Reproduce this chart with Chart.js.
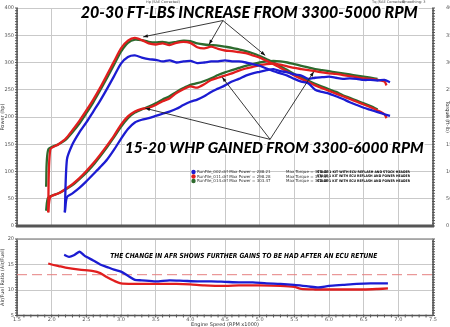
<!DOCTYPE html>
<html>
<head>
<meta charset="utf-8">
<script src="https://cdn.jsdelivr.net/npm/chart.js@4.4.1/dist/chart.umd.min.js"></script>
<style>
  body { margin: 0; background: #fff; width: 450px; height: 327px; overflow: hidden; position: relative; }
  #dyno { position: absolute; left: 0; top: 0; }
  #afr { position: absolute; left: 0; top: 233px; }
</style>
</head>
<body>
<canvas id="dyno" width="450" height="234"></canvas>
<canvas id="afr" width="450" height="94"></canvas>
<script>
// -------------------- Dados --------------------
const rpmTicks = [1.5, 2.0, 2.5, 3.0, 3.5, 4.0, 4.5, 5.0, 5.5, 6.0, 6.5, 7.0, 7.5];

// RunFile_002 (azul)
const rpmBlue = [2.19, 2.22, 2.3, 2.4, 2.5, 2.6, 2.7, 2.8, 2.9, 3.0, 3.1, 3.2, 3.3, 3.4, 3.5, 3.6, 3.7, 3.8, 3.9, 4.0,
  4.1, 4.2, 4.3, 4.4, 4.5, 4.6, 4.7, 4.8, 4.9, 5.0, 5.1, 5.2, 5.3, 5.4, 5.5, 5.6, 5.7, 5.8, 5.9, 6.0,
  6.1, 6.2, 6.3, 6.4, 6.5, 6.6, 6.7, 6.8, 6.88];
const torqueBlue = [25, 122, 150, 172, 190, 210, 230, 252, 275, 298, 310, 313, 309, 306, 305, 302, 304, 300, 302, 303,
  299, 300, 302, 302, 304, 302, 302, 300, 297, 294, 289, 284, 280, 276, 270, 265, 262, 250, 246, 243,
  238, 233, 227, 222, 217, 213, 209, 205, 202];
const powerBlue = [25, 53, 60, 70, 82, 95, 108, 122, 140, 160, 178, 190, 195, 198, 202, 206, 210, 215, 222, 228,
  232, 238, 246, 252, 258, 265, 270, 276, 280, 283, 286, 288, 284, 282, 278, 276, 270, 272, 273, 274,
  272, 270, 271, 270, 268, 268, 267, 268, 264];

// RunFile_011 (vermelho)
const rpmRed = [1.95, 1.98, 2.1, 2.2, 2.3, 2.4, 2.5, 2.6, 2.7, 2.8, 2.9, 3.0, 3.1, 3.2, 3.3, 3.4, 3.5, 3.6, 3.7, 3.8,
  3.9, 4.0, 4.1, 4.2, 4.3, 4.4, 4.5, 4.6, 4.7, 4.8, 4.9, 5.0, 5.1, 5.2, 5.3, 5.4, 5.5, 5.6, 5.7, 5.8,
  5.9, 6.0, 6.1, 6.2, 6.3, 6.4, 6.5, 6.6, 6.7, 6.8, 6.83];
const torqueRed = [25, 140, 150, 160, 176, 193, 212, 232, 254, 278, 302, 326, 340, 345, 341, 335, 333, 335, 332, 336,
  338, 336, 328, 326, 329, 325, 322, 321, 319, 317, 313, 309, 303, 297, 290, 283, 276, 270, 264, 258,
  253, 248, 243, 238, 233, 228, 223, 218, 212, 205, 198];
const powerRed = [25, 53, 60, 68, 77, 88, 101, 115, 131, 148, 166, 186, 201, 210, 215, 217, 222, 229, 234, 244,
  251, 256, 254, 260, 268, 272, 276, 280, 285, 289, 292, 295, 297, 298, 296, 293, 290, 288, 286, 284,
  282, 280, 279, 277, 275, 273, 271, 270, 268, 265, 258];

// RunFile_014 (verde)
const rpmGreen = [1.92, 1.95, 2.1, 2.2, 2.3, 2.4, 2.5, 2.6, 2.7, 2.8, 2.9, 3.0, 3.1, 3.2, 3.3, 3.4, 3.5, 3.6, 3.7, 3.8,
  3.9, 4.0, 4.1, 4.2, 4.3, 4.4, 4.5, 4.6, 4.7, 4.8, 4.9, 5.0, 5.1, 5.2, 5.3, 5.4, 5.5, 5.6, 5.7, 5.8,
  5.9, 6.0, 6.1, 6.2, 6.3, 6.4, 6.5, 6.6, 6.7];
const torqueGreen = [72, 140, 150, 158, 172, 188, 207, 227, 249, 272, 296, 320, 336, 342, 341, 338, 337, 338, 336, 338,
  340, 339, 335, 333, 332, 331, 329, 327, 324, 321, 317, 312, 306, 300, 293, 286, 279, 273, 267, 261,
  256, 251, 246, 240, 235, 230, 225, 220, 214];
const powerGreen = [28, 52, 60, 67, 75, 86, 98, 112, 128, 145, 163, 182, 198, 208, 214, 219, 225, 232, 238, 246,
  253, 259, 262, 266, 271, 277, 282, 286, 290, 294, 297, 300, 302, 303, 302, 300, 297, 294, 291, 288,
  286, 284, 282, 280, 278, 276, 274, 272, 270];

// Relação ar/combustível
const rpmAfrBlue = [2.18, 2.25, 2.32, 2.4, 2.45, 2.5, 2.6, 2.7, 2.8, 2.9, 3.0, 3.1, 3.2, 3.3, 3.5, 3.7, 3.9, 4.1,
  4.3, 4.5, 4.7, 4.9, 5.1, 5.3, 5.5, 5.7, 5.85, 6.0, 6.2, 6.4, 6.6, 6.85];
const afrBlue = [16.9, 16.5, 16.8, 17.5, 17.0, 16.5, 15.8, 15.0, 14.5, 14.0, 13.6, 12.8, 12.0, 11.9, 11.7, 11.9, 11.8, 11.7,
  11.7, 11.6, 11.5, 11.5, 11.3, 11.2, 11.0, 10.7, 10.5, 10.8, 11.0, 11.2, 11.3, 11.3];
const rpmAfrRed = [1.95, 2.0, 2.1, 2.2, 2.4, 2.6, 2.7, 2.8, 2.9, 3.0, 3.2, 3.5, 3.8, 4.0, 4.2, 4.5, 4.7, 5.0,
  5.3, 5.5, 5.6, 5.8, 6.0, 6.3, 6.5, 6.7, 6.85];
const afrRed = [15.2, 15.0, 14.7, 14.4, 14.0, 13.7, 13.3, 12.5, 11.8, 11.3, 11.2, 11.2, 11.2, 11.1, 10.9, 10.8, 10.9, 10.9,
  10.8, 10.6, 10.2, 10.1, 10.1, 10.1, 10.1, 10.2, 10.3];
const rpmAfrTarget = [1.5, 7.5];
const afrTarget = [13, 13];

// Legenda
const runNames = ["RunFile_002.drf", "RunFile_011.drf", "RunFile_014.drf"];
const runMaxPower = ["288.21", "298.28", "303.47"];
const runMaxTorque = ["313.43", "345.33", "342.69"];
const runNotes = ["STAGE 1 KIT WITH ECU REFLASH AND STOCK HEADER",
  "STAGE 1 KIT WITH ECU REFLASH AND POWER HEADER",
  "STAGE 1 KIT WITH ECU REFLASH AND POWER HEADER"];
const runColors = ["#1c1cd2", "#e11e1e", "#2d6a2d"];

// -------------------- Funções --------------------
function pontos(xs, ys) {
  return xs.map((x, i) => ({ x, y: ys[i] }));
}

function linha(label, xs, ys, cor, eixo) {
  return {
    label, data: pontos(xs, ys), yAxisID: eixo,
    borderColor: cor, borderWidth: 2.3, pointRadius: 0, tension: 0.25, fill: false
  };
}

const fonteTick = { family: "DejaVu Sans", size: 5 };
const grade = { color: "#c9c9c9", lineWidth: 1, drawTicks: false };

// moldura escura com marcas menores
function moldura(ctx, area, lados, passoX, passoY) {
  ctx.save();
  ctx.strokeStyle = "#555";
  ctx.lineWidth = 1.5;
  const { left, right, top, bottom } = area;
  if (lados.includes("l")) { ctx.beginPath(); ctx.moveTo(left, top); ctx.lineTo(left, bottom); ctx.stroke(); }
  if (lados.includes("r")) { ctx.beginPath(); ctx.moveTo(right, top); ctx.lineTo(right, bottom); ctx.stroke(); }
  ctx.lineWidth = 1;
  for (let y = bottom; y >= top; y -= passoY) {
    if (lados.includes("l")) { ctx.beginPath(); ctx.moveTo(left - 2, y); ctx.lineTo(left + 1, y); ctx.stroke(); }
    if (lados.includes("r")) { ctx.beginPath(); ctx.moveTo(right - 1, y); ctx.lineTo(right + 2, y); ctx.stroke(); }
  }
  if (lados.includes("b")) {
    for (let x = left; x <= right; x += passoX) {
      ctx.beginPath(); ctx.moveTo(x, bottom - 1); ctx.lineTo(x, bottom + 2); ctx.stroke();
    }
  }
  ctx.restore();
}

function textoGrande(ctx, txt, cx, base, tam, larg) {
  ctx.save();
  ctx.font = `italic 900 ${tam}px Lato`;
  const w = ctx.measureText(txt).width;
  ctx.translate(cx, base);
  ctx.scale(larg / w, 1);
  ctx.textAlign = "center";
  ctx.textBaseline = "alphabetic";
  ctx.lineJoin = "round";
  ctx.strokeStyle = "#fff";
  ctx.lineWidth = 3;
  ctx.strokeText(txt, 0, 0);
  ctx.fillStyle = "#000";
  ctx.fillText(txt, 0, 0);
  ctx.restore();
}

function seta(ctx, x0, y0, x1, y1) {
  ctx.save();
  ctx.strokeStyle = "#222";
  ctx.fillStyle = "#111";
  ctx.lineWidth = 0.9;
  ctx.beginPath(); ctx.moveTo(x0, y0); ctx.lineTo(x1, y1); ctx.stroke();
  const a = Math.atan2(y1 - y0, x1 - x0);
  ctx.beginPath();
  ctx.moveTo(x1, y1);
  ctx.lineTo(x1 - 5 * Math.cos(a - 0.35), y1 - 5 * Math.sin(a - 0.35));
  ctx.lineTo(x1 - 5 * Math.cos(a + 0.35), y1 - 5 * Math.sin(a + 0.35));
  ctx.closePath(); ctx.fill();
  ctx.restore();
}

// anotações do gráfico de potência/torque (em coordenadas de dados)
const setasTorque = { origem: [4.47, 377], alvos: [[3.32, 347], [4.27, 333], [5.08, 313]] };
const setasPotencia = { origem: [5.15, 159], alvos: [[3.35, 216], [4.46, 273], [5.78, 283]] };

const pluginDyno = {
  id: "dyno",
  beforeDatasetsDraw(chart) {
    const { ctx, chartArea } = chart;
    moldura(ctx, chartArea, "lr", 0, chartArea.height / 80);
    ctx.save();
    ctx.strokeStyle = "#555";
    ctx.lineWidth = 3;
    ctx.beginPath();
    ctx.moveTo(chartArea.left - 1, chartArea.bottom);
    ctx.lineTo(chartArea.right + 1, chartArea.bottom);
    ctx.stroke();
    ctx.restore();
  },
  afterDraw(chart) {
    const { ctx, scales } = chart;
    const px = r => scales.x.getPixelForValue(r);
    const py = v => scales.y.getPixelForValue(v);

    [setasTorque, setasPotencia].forEach(s => {
      s.alvos.forEach(t => seta(ctx, px(s.origem[0]), py(s.origem[1]), px(t[0]), py(t[1])));
    });

    textoGrande(ctx, "20-30 FT-LBS INCREASE FROM 3300-5000 RPM", px(4.85), py(381), 16, 337);
    textoGrande(ctx, "15-20 WHP GAINED FROM 3300-6000 RPM", px(5.21), py(134), 15, 299);

    // legenda
    ctx.save();
    ctx.font = '4px "DejaVu Sans"';
    ctx.textBaseline = "middle";
    runNames.forEach((n, i) => {
      const y = 172 + i * 4.5;
      ctx.fillStyle = runColors[i];
      ctx.beginPath(); ctx.arc(193.5, y, 2.2, 0, Math.PI * 2); ctx.fill();
      ctx.fillStyle = "#333";
      ctx.fillText(`${n} Max Power = ${runMaxPower[i]}`, 197, y);
      ctx.fillText(`Max Torque = ${runMaxTorque[i]}`, 286, y);
      ctx.save();
      ctx.font = 'bold 3.5px "DejaVu Sans"';
      ctx.fillStyle = "#000";
      const w = ctx.measureText(runNotes[i]).width;
      ctx.translate(317, y);
      ctx.scale(93 / w, 1);
      ctx.fillText(runNotes[i], 0, 0);
      ctx.restore();
    });

    // textos pequenos do topo
    ctx.fillStyle = "#444";
    ctx.font = '3.5px "DejaVu Sans"';
    ctx.fillText("Tq (SAE Corrected)", 372, 2.5);
    ctx.fillText("Smoothing: 3", 402, 2.5);
    ctx.fillText("Hp (SAE Corrected)", 146, 2);
    ctx.restore();
  }
};

const pluginAfr = {
  id: "afr",
  beforeDatasetsDraw(chart) {
    const { ctx, chartArea } = chart;
    moldura(ctx, chartArea, "lrb", chartArea.width / 60, chartArea.height / 30);
    ctx.save();
    ctx.strokeStyle = "#555";
    ctx.lineWidth = 1.5;
    ctx.beginPath();
    ctx.moveTo(chartArea.left, chartArea.bottom);
    ctx.lineTo(chartArea.right, chartArea.bottom);
    ctx.stroke();
    ctx.strokeStyle = "#9a9a9a";
    ctx.beginPath();
    ctx.moveTo(chartArea.left, chartArea.top);
    ctx.lineTo(chartArea.right, chartArea.top);
    ctx.stroke();
    ctx.restore();
  },
  afterDraw(chart) {
    const { ctx, scales } = chart;
    ctx.save();
    ctx.font = 'italic bold 7px "DejaVu Sans"';
    const txt = "THE CHANGE IN AFR SHOWS FURTHER GAINS TO BE HAD AFTER AN ECU RETUNE";
    const w = ctx.measureText(txt).width;
    ctx.translate(scales.x.getPixelForValue(4.77), scales.y.getPixelForValue(16.3));
    ctx.scale(267 / w, 1);
    ctx.textAlign = "center";
    ctx.textBaseline = "alphabetic";
    ctx.fillStyle = "#000";
    ctx.fillText(txt, 0, 0);
    ctx.restore();
  }
};

// -------------------- Gráficos --------------------
const eixoX = {
  type: "linear", min: 1.5, max: 7.5,
  afterBuildTicks: s => { s.ticks = rpmTicks.map(v => ({ value: v })); },
  grid: grade, border: { display: false }
};

new Chart(document.getElementById("dyno"), {
  type: "line",
  data: {
    datasets: [
      linha("Torque 002", rpmBlue, torqueBlue, runColors[0], "y2"),
      linha("Power 002", rpmBlue, powerBlue, runColors[0], "y"),
      linha("Torque 011", rpmRed, torqueRed, runColors[1], "y2"),
      linha("Power 011", rpmRed, powerRed, runColors[1], "y"),
      linha("Torque 014", rpmGreen, torqueGreen, runColors[2], "y2"),
      linha("Power 014", rpmGreen, powerGreen, runColors[2], "y")
    ]
  },
  options: {
    responsive: false, animation: false,
    layout: { padding: { top: 6, left: 0, right: 0, bottom: 0 } },
    plugins: { legend: { display: false }, tooltip: { enabled: false } },
    scales: {
      x: { ...eixoX, ticks: { display: false }, afterFit: s => { s.height = 2; } },
      y: {
        position: "left", min: 0, max: 400,
        ticks: { stepSize: 50, font: fonteTick, color: "#555", padding: 3 },
        grid: grade, border: { display: false },
        title: { display: true, text: "Power (hp)", font: { ...fonteTick, lineHeight: 1 }, color: "#333", padding: 0 },
        afterFit: s => { s.width = 17; }
      },
      y2: {
        position: "right", min: 0, max: 400,
        ticks: { stepSize: 50, font: fonteTick, color: "#555", padding: 5 },
        grid: { display: false }, border: { display: false },
        title: { display: true, text: "Torque (ft-lb)", font: { ...fonteTick, lineHeight: 1 }, color: "#333", padding: 0 },
        afterFit: s => { s.width = 17; }
      }
    }
  },
  plugins: [pluginDyno]
});

new Chart(document.getElementById("afr"), {
  type: "line",
  data: {
    datasets: [
      linha("AFR 002", rpmAfrBlue, afrBlue, runColors[0], "y"),
      linha("AFR 011", rpmAfrRed, afrRed, runColors[1], "y"),
      { label: "Alvo", data: pontos(rpmAfrTarget, afrTarget), yAxisID: "y", borderColor: "#e58080",
        borderWidth: 1, borderDash: [10, 5], pointRadius: 0, fill: false }
    ]
  },
  options: {
    responsive: false, animation: false,
    layout: { padding: { top: 3, left: 0, right: 17, bottom: 0 } },
    plugins: { legend: { display: false }, tooltip: { enabled: false } },
    scales: {
      x: {
        ...eixoX,
        ticks: { font: fonteTick, color: "#555", padding: 1, callback: v => v.toFixed(1) },
        title: { display: true, text: "Engine Speed (RPM x1000)", font: { ...fonteTick, lineHeight: 1 }, color: "#333", padding: 0 },
        afterFit: s => { s.height = 11.5; }
      },
      y: {
        position: "left", min: 5, max: 20,
        ticks: { stepSize: 5, font: fonteTick, color: "#555", padding: 3 },
        grid: grade, border: { display: false },
        title: { display: true, text: "Air/Fuel Ratio (Air/Fuel)", font: { ...fonteTick, lineHeight: 1 }, color: "#333", padding: 0 },
        afterFit: s => { s.width = 17; }
      }
    }
  },
  plugins: [pluginAfr]
});
</script>
</body>
</html>
